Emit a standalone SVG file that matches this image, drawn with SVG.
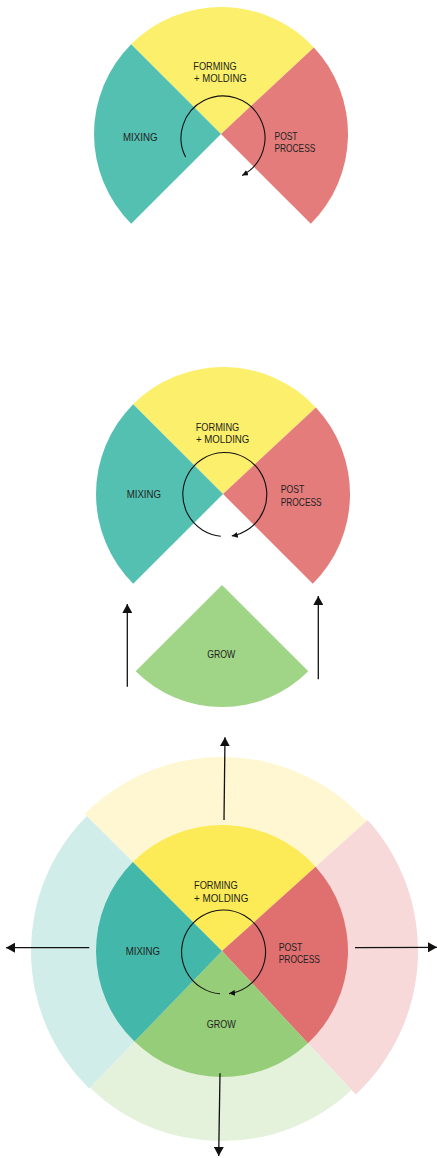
<svg xmlns="http://www.w3.org/2000/svg" width="437" height="1158" viewBox="0 0 437 1158">
<style>
text{font-family:"Liberation Sans",Arial,sans-serif;font-size:10.5px;fill:#231f20}
.y{fill:#fcef6b}.t{fill:#53c0b2}.r{fill:#e47c7c}.g{fill:#a0d486}
.y3{fill:#fceb57}.t3{fill:#42b7aa}.r3{fill:#e07070}.g3{fill:#96cd79}
.ly{fill:#fff7d1}.lt{fill:#d1ede9}.lr{fill:#f7d9d9}.lg{fill:#e4f1db}
.cyc{fill:none;stroke:#111;stroke-width:1.1;marker-end:url(#sm)}
.arr{fill:none;stroke:#111;stroke-width:1.3;marker-end:url(#bm)}
</style>
<defs>
<marker id="sm" viewBox="0 0 6 6" refX="6" refY="3" markerWidth="6" markerHeight="6" markerUnits="userSpaceOnUse" orient="auto"><path d="M0 0L6 3L0 6Z" fill="#111"/></marker>
<marker id="bm" viewBox="0 0 9 10" refX="9" refY="5" markerWidth="9" markerHeight="10" markerUnits="userSpaceOnUse" orient="auto"><path d="M0 0L9 5L0 10Z" fill="#111"/></marker>
</defs>

<!-- Diagram 1 -->
<g id="d1-forming"><path class="y" d="M221 134L131.2 44.2A127 127 0 0 1 313.9 47.4Z"/><text><tspan x="193.3" y="70" textLength="43.4" lengthAdjust="spacingAndGlyphs">FORMING</tspan><tspan x="194" y="82.3" textLength="52.7" lengthAdjust="spacingAndGlyphs">+ MOLDING</tspan></text></g>
<g id="d1-post"><path class="r" d="M221 134L313.9 47.4A127 127 0 0 1 310.8 223.8Z"/><text><tspan x="274.5" y="139.5" textLength="23" lengthAdjust="spacingAndGlyphs">POST</tspan><tspan x="274.5" y="152" textLength="40.8" lengthAdjust="spacingAndGlyphs">PROCESS</tspan></text></g>
<g id="d1-mixing"><path class="t" d="M221 134L131.2 223.8A127 127 0 0 1 131.2 44.2Z"/><text x="123" y="140.7" textLength="34.5" lengthAdjust="spacingAndGlyphs">MIXING</text></g>

<!-- Diagram 2 -->
<g id="d2-forming"><path class="y" d="M223 494L133.2 404.2A127 127 0 0 1 315.9 407.4Z"/><text><tspan x="195.7" y="431" textLength="43.6" lengthAdjust="spacingAndGlyphs">FORMING</tspan><tspan x="196" y="443.3" textLength="53.3" lengthAdjust="spacingAndGlyphs">+ MOLDING</tspan></text></g>
<g id="d2-post"><path class="r" d="M223 494L315.9 407.4A127 127 0 0 1 312.8 583.8Z"/><text><tspan x="280.7" y="492.7" textLength="23.5" lengthAdjust="spacingAndGlyphs">POST</tspan><tspan x="280.7" y="505.7" textLength="41" lengthAdjust="spacingAndGlyphs">PROCESS</tspan></text></g>
<g id="d2-mixing"><path class="t" d="M223 494L133.2 583.8A127 127 0 0 1 133.2 404.2Z"/><text x="126.7" y="497.7" textLength="34.3" lengthAdjust="spacingAndGlyphs">MIXING</text></g>
<g id="d2-grow"><path class="g" d="M222 585L308.3 671.3A122 122 0 0 1 135.7 671.3Z"/><text x="207.3" y="658.3" textLength="28" lengthAdjust="spacingAndGlyphs">GROW</text></g>

<!-- Diagram 3 outer ring -->
<g id="d3-outer-forming"><path class="ly" d="M222 951L84.8 813.8A194 194 0 0 1 366.2 821.2Z"/></g>
<g id="d3-outer-post"><path class="lr" d="M222 951L367.7 819.9A196 196 0 0 1 355.7 1094.4Z"/></g>
<g id="d3-outer-grow"><path class="lg" d="M222 951L351.6 1090A190 190 0 0 1 90 1087.7Z"/></g>
<g id="d3-outer-mixing"><path class="lt" d="M222 951L89.3 1088.4A191 191 0 0 1 86.9 815.9Z"/></g>

<!-- Diagram 3 inner -->
<g id="d3-forming"><path class="y3" d="M222 951L132.9 861.9A126 126 0 0 1 315.6 866.7Z"/><text><tspan x="194" y="889" textLength="43.7" lengthAdjust="spacingAndGlyphs">FORMING</tspan><tspan x="194" y="901.7" textLength="54.3" lengthAdjust="spacingAndGlyphs">+ MOLDING</tspan></text></g>
<g id="d3-post"><path class="r3" d="M222 951L315.6 866.7A126 126 0 0 1 307.9 1043.2Z"/><text><tspan x="278.7" y="951" textLength="23.7" lengthAdjust="spacingAndGlyphs">POST</tspan><tspan x="278.7" y="963.3" textLength="41.3" lengthAdjust="spacingAndGlyphs">PROCESS</tspan></text></g>
<g id="d3-grow"><path class="g3" d="M222 951L307.9 1043.2A126 126 0 0 1 134.5 1041.6Z"/><text x="206.7" y="1027.7" textLength="29" lengthAdjust="spacingAndGlyphs">GROW</text></g>
<g id="d3-mixing"><path class="t3" d="M222 951L134.5 1041.6A126 126 0 0 1 132.9 861.9Z"/><text x="125.7" y="955" textLength="34.3" lengthAdjust="spacingAndGlyphs">MIXING</text></g>

<g id="connectors">
<path class="cyc" d="M185.6 157.1A42 42 0 1 1 242.1 175.4"/>
<path class="cyc" d="M220.8 536.3A42 42 0 1 1 231.8 535.9"/>
<path class="cyc" d="M220 993.8A42 42 0 1 1 229 993.6"/>
<path class="arr" d="M127.3 686.7L127.3 604"/>
<path class="arr" d="M318.3 679.3L318.3 596"/>
<path class="arr" d="M224 820L225 737.3"/>
<path class="arr" d="M89.3 947.7L6 947.7"/>
<path class="arr" d="M355 947.7L437 947.3"/>
<path class="arr" d="M220 1073.3L218.7 1156"/>
</g>
</svg>
